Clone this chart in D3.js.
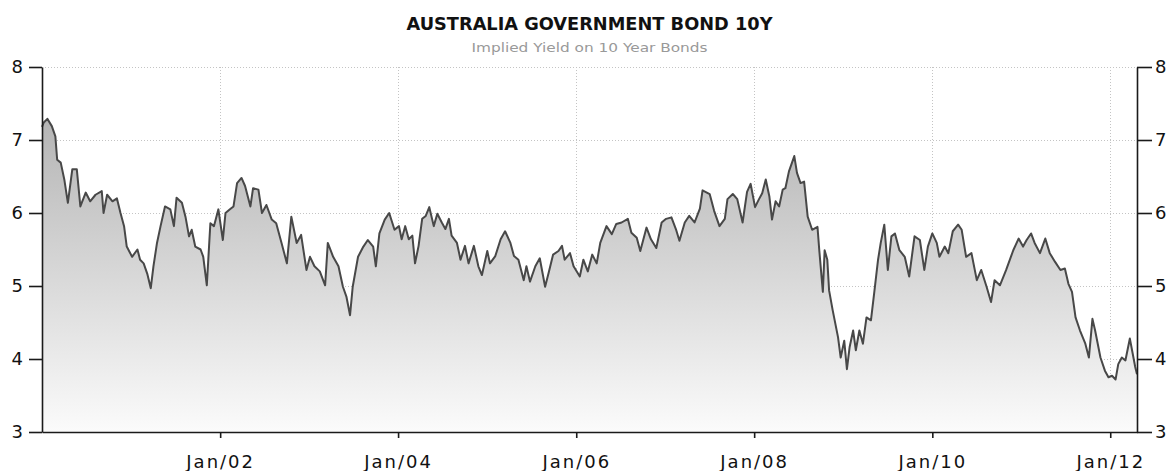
<!DOCTYPE html>
<html>
<head>
<meta charset="utf-8">
<script src="https://cdn.jsdelivr.net/npm/d3@7"></script>
<style>
  html, body { margin: 0; padding: 0; background: #fff; }
  svg { display: block; }
</style>
</head>
<body>
<div id="chart"></div>
<script>
// ---- Data (decimal year, yield %) ----
const years = [
  2000.00,2000.02,2000.06,2000.11,2000.15,2000.17,2000.21,2000.25,2000.29,2000.34,2000.39,2000.43,2000.49,2000.54,2000.60,2000.67,2000.69,2000.73,2000.79,2000.84,2000.88,2000.92,2000.95,
  2001.01,2001.07,2001.10,2001.14,2001.18,2001.22,2001.25,2001.29,2001.33,2001.38,2001.44,2001.48,2001.51,2001.57,2001.61,2001.65,2001.68,2001.72,2001.78,2001.81,2001.85,2001.89,2001.93,2001.98,
  2002.03,2002.06,2002.11,2002.15,2002.19,2002.24,2002.28,2002.34,2002.37,2002.43,2002.47,2002.52,2002.58,2002.63,2002.69,2002.75,2002.80,2002.86,2002.91,2002.97,
  2003.01,2003.06,2003.12,2003.18,2003.21,2003.27,2003.33,2003.38,2003.42,2003.46,2003.49,2003.55,2003.61,2003.66,2003.72,2003.75,2003.79,2003.85,2003.90,2003.96,
  2004.01,2004.04,2004.08,2004.12,2004.16,2004.19,2004.23,2004.27,2004.31,2004.35,2004.40,2004.44,2004.49,2004.53,2004.57,2004.60,2004.66,2004.70,2004.75,2004.79,2004.85,2004.90,2004.94,
  2005.00,2005.03,2005.09,2005.15,2005.20,2005.26,2005.30,2005.35,2005.41,2005.44,2005.48,2005.54,2005.59,2005.65,2005.69,2005.74,2005.80,2005.84,2005.87,2005.93,2005.97,
  2006.04,2006.08,2006.13,2006.18,2006.23,2006.27,2006.34,2006.40,2006.45,2006.51,2006.58,2006.62,2006.68,2006.72,2006.79,2006.84,2006.90,2006.96,
  2007.01,2007.07,2007.12,2007.16,2007.22,2007.27,2007.33,2007.39,2007.42,2007.50,2007.55,2007.61,2007.67,2007.70,2007.76,2007.81,2007.87,2007.92,2007.96,2008.01,
  2008.05,2008.09,2008.13,2008.17,2008.20,2008.24,2008.28,2008.32,2008.35,2008.39,2008.45,2008.48,2008.52,2008.56,2008.60,2008.65,2008.71,2008.73,2008.77,2008.79,2008.82,2008.84,2008.88,2008.94,2008.97,
  2009.01,2009.04,2009.07,2009.11,2009.14,2009.18,2009.22,2009.26,2009.31,2009.35,2009.39,2009.42,2009.46,2009.50,2009.54,2009.58,2009.63,2009.69,2009.74,2009.80,2009.86,2009.91,2009.95,
  2010.00,2010.05,2010.08,2010.14,2010.18,2010.23,2010.29,2010.33,2010.38,2010.44,2010.50,2010.55,2010.61,2010.66,2010.70,2010.76,2010.83,2010.91,2010.97,
  2011.02,2011.06,2011.11,2011.15,2011.21,2011.27,2011.32,2011.38,2011.44,2011.49,2011.53,2011.57,2011.61,2011.66,2011.72,2011.76,2011.80,2011.83,2011.89,2011.94,2011.98,
  2012.02,2012.06,2012.09,2012.13,2012.17,2012.22,2012.26,2012.28,2012.30
];
const yields = [
  7.18,7.24,7.29,7.19,7.05,6.73,6.69,6.46,6.14,6.60,6.60,6.09,6.28,6.16,6.25,6.30,6.00,6.25,6.16,6.20,6.00,5.82,5.54,
  5.40,5.50,5.36,5.31,5.17,4.97,5.27,5.59,5.82,6.09,6.05,5.82,6.21,6.14,5.95,5.68,5.77,5.54,5.50,5.40,5.01,5.86,5.82,6.05,
  5.63,6.00,6.05,6.09,6.41,6.48,6.37,6.09,6.34,6.32,6.00,6.11,5.91,5.86,5.59,5.31,5.95,5.59,5.70,5.22,
  5.40,5.27,5.20,5.01,5.59,5.40,5.27,4.99,4.85,4.60,4.99,5.40,5.54,5.63,5.54,5.27,5.72,5.91,6.00,5.77,
  5.82,5.64,5.82,5.64,5.69,5.31,5.55,5.92,5.96,6.08,5.82,5.99,5.87,5.78,5.92,5.69,5.59,5.36,5.55,5.31,5.55,5.27,5.15,
  5.48,5.31,5.41,5.64,5.75,5.59,5.41,5.36,5.08,5.27,5.06,5.27,5.38,4.99,5.18,5.43,5.48,5.55,5.36,5.45,5.27,
  5.13,5.36,5.20,5.43,5.31,5.59,5.82,5.71,5.85,5.87,5.92,5.73,5.66,5.48,5.80,5.64,5.52,5.87,
  5.92,5.94,5.78,5.62,5.87,5.96,5.87,6.06,6.31,6.26,6.03,5.82,5.92,6.19,6.26,6.19,5.87,6.29,6.40,6.08,
  6.18,6.27,6.46,6.23,5.91,6.16,6.09,6.32,6.34,6.57,6.78,6.55,6.41,6.43,5.95,5.77,5.81,5.49,4.92,5.49,5.36,4.94,4.67,4.30,4.02,
  4.25,3.86,4.16,4.39,4.12,4.39,4.21,4.57,4.53,4.94,5.36,5.59,5.84,5.22,5.68,5.72,5.49,5.40,5.13,5.68,5.63,5.22,5.54,
  5.72,5.59,5.40,5.54,5.45,5.75,5.84,5.77,5.40,5.45,5.08,5.22,4.99,4.78,5.08,5.01,5.22,5.49,5.65,
  5.54,5.63,5.72,5.59,5.45,5.65,5.45,5.33,5.22,5.24,5.03,4.92,4.57,4.39,4.21,4.02,4.55,4.39,4.02,3.84,3.75,
  3.77,3.72,3.93,4.02,3.98,4.28,4.02,3.89,3.79
];
const xTickYears = [2002, 2004, 2006, 2008, 2010, 2012];
const yTicks = [3, 4, 5, 6, 7, 8];
const titleText = "AUSTRALIA GOVERNMENT BOND 10Y";
const subtitleText = "Implied Yield on 10 Year Bonds";

// ---- Helpers ----
function toDate(dy) {
  const y = Math.floor(dy);
  const start = Date.UTC(y, 0, 1), end = Date.UTC(y + 1, 0, 1);
  return new Date(start + (dy - y) * (end - start));
}
const data = years.map((yr, i) => ({ date: toDate(yr), value: yields[i] }));

// ---- Layout ----
const W = 1168, H = 471;
const L = 42, R = 1137, T = 67, B = 432;

const svg = d3.select("#chart").append("svg").attr("width", W).attr("height", H);

const x = d3.scaleUtc().domain([toDate(2000.0), toDate(2012.30)]).range([L, R]);
const y = d3.scaleLinear().domain([3, 8]).range([B, T]);

const defs = svg.append("defs");
const grad = defs.append("linearGradient").attr("id", "fillGrad")
  .attr("gradientUnits", "userSpaceOnUse").attr("x1", 0).attr("x2", 0).attr("y1", T).attr("y2", B);
grad.append("stop").attr("offset", "0%").attr("stop-color", "#a9a9a9");
grad.append("stop").attr("offset", "100%").attr("stop-color", "#fbfbfb");

// Gridlines
const grid = svg.append("g").attr("stroke", "#c4c4c4").attr("stroke-width", 1).attr("stroke-dasharray", "1,2");
grid.selectAll("line.h").data(yTicks.filter(v => v > 3)).join("line")
  .attr("x1", L).attr("x2", R).attr("y1", d => Math.round(y(d)) + 0.5).attr("y2", d => Math.round(y(d)) + 0.5);
grid.selectAll("line.v").data(xTickYears).join("line")
  .attr("x1", d => Math.round(x(toDate(d))) + 0.5).attr("x2", d => Math.round(x(toDate(d))) + 0.5)
  .attr("y1", T).attr("y2", B);

// Area + line
const area = d3.area().x(d => x(d.date)).y0(B).y1(d => y(d.value));
const line = d3.line().x(d => x(d.date)).y(d => y(d.value));
svg.append("path").datum(data).attr("d", area).attr("fill", "url(#fillGrad)");
svg.append("path").datum(data).attr("d", line).attr("fill", "none")
  .attr("stroke", "#484848").attr("stroke-width", 2).attr("stroke-linejoin", "round");

// Axes
const fontFam = "'DejaVu Sans', Verdana, sans-serif";
function styleAxis(g) {
  g.selectAll(".domain").attr("stroke", "#1a1a1a").attr("stroke-width", 1.6);
  g.selectAll(".tick line").attr("stroke", "#1a1a1a").attr("stroke-width", 1.6);
  g.selectAll("text").attr("fill", "#111").style("font-family", fontFam).style("font-size", "18px");
}
const yLeft = svg.append("g").attr("transform", `translate(${L},0)`)
  .call(d3.axisLeft(y).tickValues(yTicks).tickFormat(d3.format("d")).tickSize(13).tickSizeOuter(0).tickPadding(6));
styleAxis(yLeft);
const yRight = svg.append("g").attr("transform", `translate(${R},0)`)
  .call(d3.axisRight(y).tickValues(yTicks).tickFormat(d3.format("d")).tickSize(15).tickSizeOuter(0).tickPadding(3));
styleAxis(yRight);
const xAxis = svg.append("g").attr("transform", `translate(0,${B})`)
  .call(d3.axisBottom(x).tickValues(xTickYears.map(toDate)).tickFormat(d3.utcFormat("Jan/%y")).tickSize(6).tickSizeOuter(0));
styleAxis(xAxis);
xAxis.selectAll("text").attr("y", 36).attr("dy", 0).style("letter-spacing", "2px");

// Titles
const cx = (L + R) / 2;
svg.append("text").attr("x", cx).attr("y", 30).attr("text-anchor", "middle")
  .attr("textLength", 366).attr("lengthAdjust", "spacingAndGlyphs")
  .style("font-family", fontFam).style("font-size", "17px").style("font-weight", "bold").attr("fill", "#111")
  .text(titleText);
svg.append("text").attr("x", cx).attr("y", 52).attr("text-anchor", "middle")
  .attr("textLength", 236).attr("lengthAdjust", "spacingAndGlyphs")
  .style("font-family", fontFam).style("font-size", "12px").attr("fill", "#999")
  .text(subtitleText);
</script>
</body>
</html>
